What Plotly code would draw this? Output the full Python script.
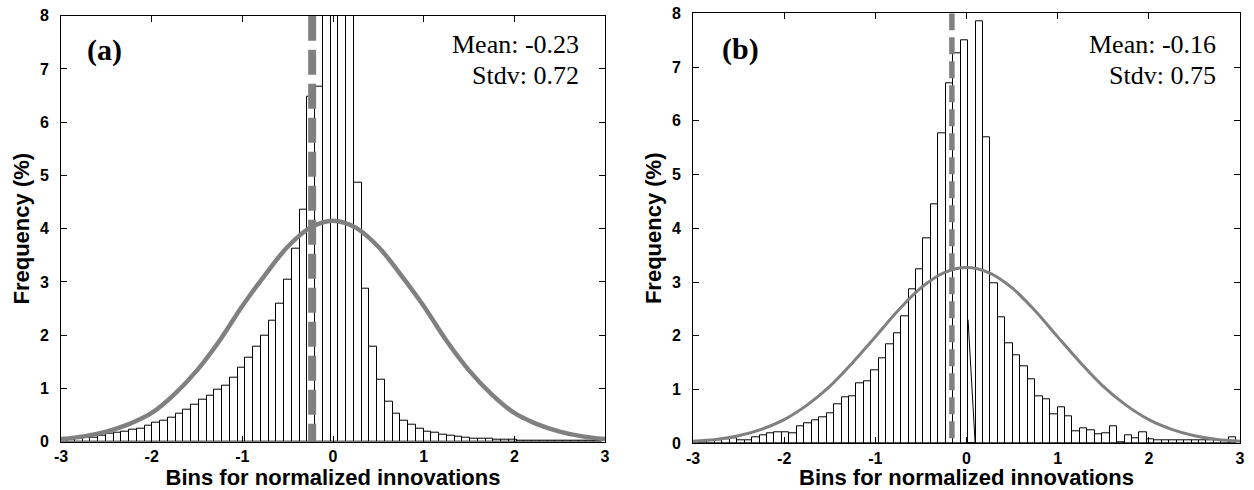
import plotly.graph_objects as go

# ---------------- data ----------------
LEFT_FIRST_CENTER = -2.976
LEFT_BIN_WIDTH = 0.0855
left_freq = [
    0.03, 0.045, 0.05, 0.07, 0.08, 0.11, 0.145, 0.17, 0.18, 0.22,
    0.25, 0.295, 0.36, 0.39, 0.46, 0.53, 0.61, 0.70, 0.78, 0.86,
    0.97, 1.06, 1.21, 1.39, 1.57, 1.78, 2.00, 2.27, 2.60, 3.05,
    3.63, 4.36, 6.47, 6.66, 9.6, 11.0, 10.4, 9.2, 4.86, 2.88,
    1.78, 1.16, 0.75, 0.53, 0.39, 0.31, 0.25, 0.19, 0.16, 0.13,
    0.11, 0.09, 0.07, 0.06, 0.05, 0.05, 0.04, 0.03, 0.03, 0.015,
    0.015, 0.015, 0.015, 0.015, 0.015, 0.015, 0.015, 0.015, 0.015, 0.015,
]

RIGHT_FIRST_CENTER = -2.964
RIGHT_BIN_WIDTH = 0.0817
right_freq = [
    0.03, 0.04, 0.05, 0.05, 0.07, 0.10, 0.05, 0.06, 0.12, 0.15,
    0.19, 0.20, 0.21, 0.19, 0.32, 0.37, 0.42, 0.48, 0.56, 0.73,
    0.86, 0.88, 1.12, 1.15, 1.35, 1.58, 1.84, 2.05, 2.37, 2.87,
    3.24, 3.81, 4.45, 5.77, 6.70, 7.26, 7.49, 0.0, 7.86, 5.70,
    2.98, 2.34, 1.86, 1.64, 1.44, 1.19, 0.87, 0.81, 0.54, 0.67,
    0.50, 0.22, 0.27, 0.25, 0.17, 0.18, 0.32, 0.01, 0.155, 0.09,
    0.20, 0.08, 0.05, 0.05, 0.05, 0.05, 0.05, 0.05, 0.05, 0.05,
    0.05, 0.05, 0.11,
]
# thin stray stroke inside the empty bin of panel (b)
right_stray_x = [0.017, 0.095]
right_stray_y = [2.3, 0.0]

curve_x = [-3, -2.75, -2.5, -2.25, -2, -1.75, -1.5, -1.25, -1, -0.75, -0.5, -0.25,
           0, 0.25, 0.5, 0.75, 1, 1.25, 1.5, 1.75, 2, 2.25, 2.5, 2.75, 3]
left_curve = [0.05, 0.10, 0.19, 0.33, 0.54, 0.89, 1.34, 1.90, 2.55, 3.13, 3.66, 4.02,
              4.15, 4.02, 3.66, 3.13, 2.55, 1.90, 1.34, 0.89, 0.54, 0.33, 0.19, 0.10, 0.05]
right_curve = [0.04, 0.07, 0.14, 0.26, 0.44, 0.71, 1.06, 1.50, 1.98, 2.47, 2.89, 3.17,
               3.27, 3.17, 2.89, 2.47, 1.98, 1.50, 1.06, 0.71, 0.44, 0.26, 0.14, 0.07, 0.04]

left_mean, left_std = -0.23, 0.72
right_mean, right_std = -0.16, 0.75
panel_labels = ["(a)", "(b)"]
x_ticks = [-3, -2, -1, 0, 1, 2, 3]
x_ticktext = ["-3", "-2", "-1", "0", "1", "2", "3"]
y_ticks = [0, 1, 2, 3, 4, 5, 6, 7, 8]
x_title = "Bins for normalized innovations"
y_title = "Frequency (%)"

W, H = 1254, 490
GRAY = "#808080"

left_centers = [LEFT_FIRST_CENTER + i * LEFT_BIN_WIDTH for i in range(len(left_freq))]
right_centers = [RIGHT_FIRST_CENTER + i * RIGHT_BIN_WIDTH for i in range(len(right_freq))]

fig = go.Figure()

bar_style = dict(marker=dict(color="white", line=dict(color="black", width=1)), showlegend=False)
fig.add_trace(go.Bar(x=left_centers, y=left_freq, width=LEFT_BIN_WIDTH,
                     xaxis="x", yaxis="y", **bar_style))
fig.add_trace(go.Bar(x=right_centers, y=right_freq, width=RIGHT_BIN_WIDTH,
                     xaxis="x2", yaxis="y2", **bar_style))

fig.add_trace(go.Scatter(x=right_stray_x, y=right_stray_y, mode="lines",
                         line=dict(color="black", width=1),
                         xaxis="x2", yaxis="y2", showlegend=False))

fig.add_trace(go.Scatter(x=curve_x, y=left_curve, mode="lines",
                         line=dict(color=GRAY, width=4.5, shape="spline"),
                         xaxis="x", yaxis="y", showlegend=False))
fig.add_trace(go.Scatter(x=curve_x, y=right_curve, mode="lines",
                         line=dict(color=GRAY, width=3, shape="spline"),
                         xaxis="x2", yaxis="y2", showlegend=False))

fig.add_trace(go.Scatter(x=[left_mean, left_mean], y=[8, 0], mode="lines",
                         line=dict(color=GRAY, width=8, dash="25px,9px"),
                         xaxis="x", yaxis="y", showlegend=False))
fig.add_trace(go.Scatter(x=[right_mean, right_mean], y=[8, 0], mode="lines",
                         line=dict(color=GRAY, width=5.5, dash="17px,7px"),
                         xaxis="x2", yaxis="y2", showlegend=False))

tickfont = dict(family="Liberation Sans", size=16, color="black", weight="bold")
titlefont = dict(family="Liberation Sans", size=22, color="black", weight="bold")

def xax(domain, anchor):
    return dict(domain=domain, anchor=anchor, range=[-3, 3], tickvals=x_ticks,
                ticktext=x_ticktext, automargin=False,
                ticks="inside", ticklen=6, tickcolor="black", showline=True,
                linecolor="black", linewidth=1, mirror="ticks", showgrid=False,
                zeroline=False, tickfont=tickfont,
                title=dict(text=x_title, font=titlefont, standoff=6))

def yax(domain, anchor):
    return dict(domain=domain, anchor=anchor, range=[0, 8], tickvals=y_ticks,
                automargin=False,
                ticks="inside", ticklen=6, tickcolor="black", showline=True,
                linecolor="black", linewidth=1, mirror="ticks", showgrid=False,
                zeroline=False, tickfont=tickfont, ticklabelstandoff=8,
                title=dict(text=y_title, font=titlefont, standoff=4))

L = (61, 605, 15.7, 441.7)
R = (693, 1240, 13.3, 443.3)

fig.update_layout(
    template="none",
    width=W, height=H, margin=dict(l=0, r=0, t=0, b=0, autoexpand=False),
    paper_bgcolor="white", plot_bgcolor="white", bargap=0, showlegend=False,
    xaxis=xax([L[0] / W, L[1] / W], "y"),
    yaxis=yax([1 - L[3] / H, 1 - L[2] / H], "x"),
    xaxis2=xax([R[0] / W, R[1] / W], "y2"),
    yaxis2=yax([1 - R[3] / H, 1 - R[2] / H], "x2"),
)

serif = "Liberation Serif"
def ann(text, px, py, size, xanchor, bold=False):
    return dict(text=f"<b>{text}</b>" if bold else text, x=px / W, y=1 - py / H,
                xref="paper", yref="paper", xanchor=xanchor, yanchor="middle",
                showarrow=False, font=dict(family=serif, size=size, color="black"))

fig.update_layout(annotations=[
    ann(panel_labels[0], 104, 50, 30, "center", bold=True),
    ann(panel_labels[1], 740, 49, 30, "center", bold=True),
    ann(f"Mean: {left_mean:.2f}", 581, 45, 26, "right"),
    ann(f"Stdv: {left_std:.2f}", 581, 75, 26, "right"),
    ann(f"Mean: {right_mean:.2f}", 1218, 45, 26, "right"),
    ann(f"Stdv: {right_std:.2f}", 1218, 76, 26, "right"),
])

fig.write_html("out.html")
